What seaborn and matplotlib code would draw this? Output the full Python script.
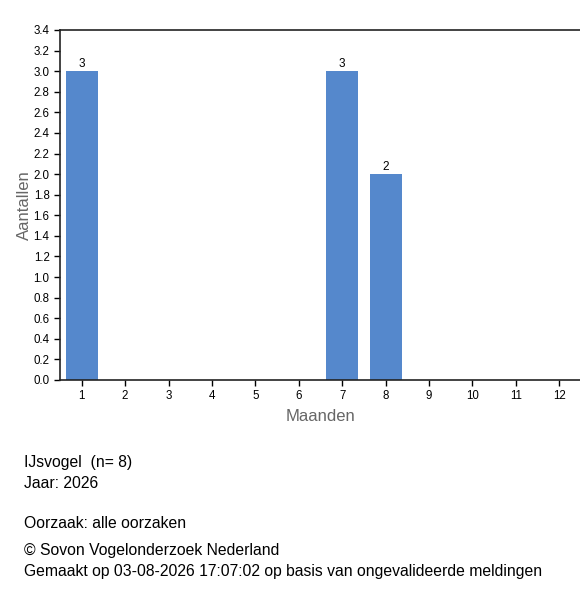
import pandas as pd
import matplotlib
matplotlib.use("Agg")
import matplotlib.pyplot as plt
import seaborn as sns

# data
maanden = [1, 2, 3, 4, 5, 6, 7, 8, 9, 10, 11, 12]
aantallen = [3, 0, 0, 0, 0, 0, 3, 2, 0, 0, 0, 0]
y_ticks = [0.0, 0.2, 0.4, 0.6, 0.8, 1.0, 1.2, 1.4, 1.6, 1.8, 2.0, 2.2,
           2.4, 2.6, 2.8, 3.0, 3.2, 3.4]
footer_lines = [
    (0.77, "IJsvogel  (n= 8)"),
    (0.805, "Jaar: 2026"),
    (0.872, "Oorzaak: alle oorzaken"),
    (0.918, "\u00a9 Sovon Vogelonderzoek Nederland"),
    (0.952, "Gemaakt op 03-08-2026 17:07:02 op basis van ongevalideerde meldingen"),
]

df = pd.DataFrame({"Maand": maanden, "Aantal": aantallen})

sns.set_style("white")
plt.rcParams["font.family"] = ["Liberation Sans", "DejaVu Sans"]

fig = plt.figure(figsize=(5.8, 6.0), dpi=100)
ax = fig.add_axes([60 / 580, 220 / 600, 521 / 580, 350 / 600])

sns.barplot(data=df, x="Maand", y="Aantal", order=maanden, color="#5588CC",
            saturation=1, width=0.74, linewidth=0, ax=ax)

# labels on bars with values
for patch, val in zip(ax.patches, aantallen):
    if val > 0:
        ax.text(patch.get_x() + patch.get_width() / 2, val + 0.01, str(val),
                ha="center", va="bottom", fontsize=8.5, color="black")

ax.set_ylim(0, 3.4)
ax.set_yticks(y_ticks)
ax.set_yticklabels([f"{t:.1f}" for t in y_ticks])
ax.set_xlim(-0.5, 11.5)

ax.tick_params(axis="both", labelsize=8.3, colors="black", length=4, width=1,
               direction="out", left=True, bottom=True)
ax.set_xlabel("Maanden", fontsize=12, color="#666666", labelpad=5)
ax.set_ylabel("Aantallen", fontsize=12, color="#666666", labelpad=1)

for side in ["left", "bottom", "top"]:
    ax.spines[side].set_color("#222222")
    ax.spines[side].set_linewidth(1.2)
ax.spines["right"].set_visible(False)
ax.grid(False)

for ypos, txt in footer_lines:
    fig.text(24 / 580, 1 - ypos, txt, fontsize=11.3, color="black",
             ha="left", va="center")

fig.savefig("out.png", dpi=100)
